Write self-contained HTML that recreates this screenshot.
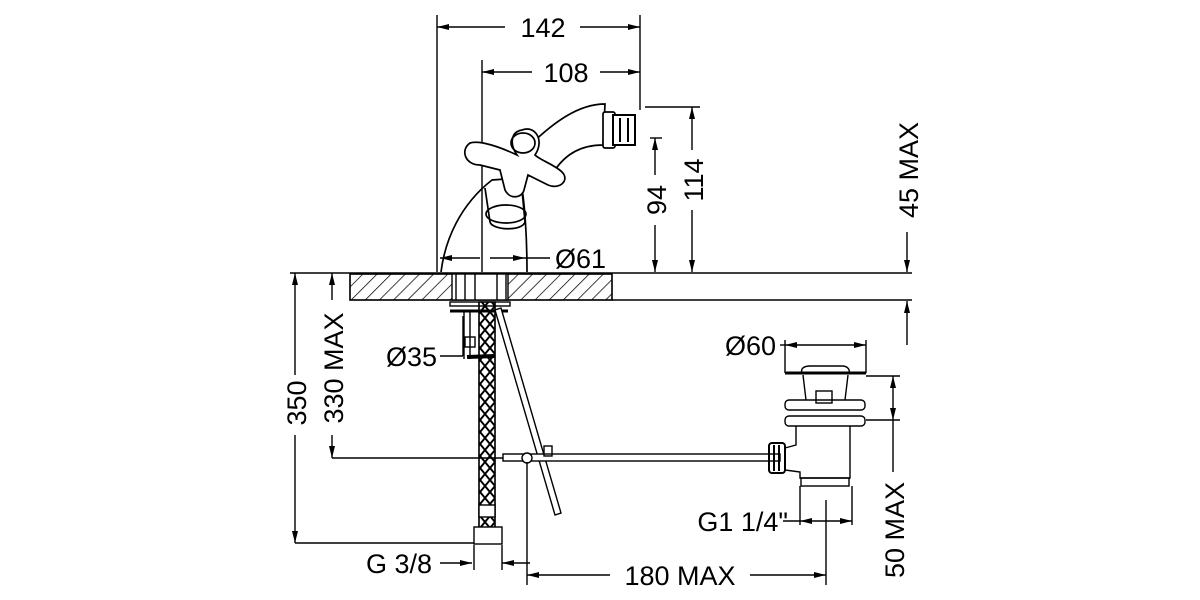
<!DOCTYPE html>
<html><head><meta charset="utf-8"><style>
html,body{margin:0;padding:0;background:#fff;width:1200px;height:600px;overflow:hidden}
svg{display:block}
text{font-family:"Liberation Sans",sans-serif;font-size:27px;fill:#000}
</style></head><body>
<svg width="1200" height="600" viewBox="0 0 1200 600" xmlns="http://www.w3.org/2000/svg">
<defs>
<marker id="a" viewBox="0 0 12 6" refX="12" refY="3" markerWidth="13" markerHeight="6" orient="auto-start-reverse" markerUnits="userSpaceOnUse"><path d="M0,0 L12,3 L0,6 z" fill="#000"/></marker>
<pattern id="h" width="10" height="10" patternUnits="userSpaceOnUse" patternTransform="rotate(45)"><line x1="0" y1="0" x2="0" y2="10" stroke="#000" stroke-width="1.5"/></pattern>
<pattern id="x" width="10" height="12" patternUnits="userSpaceOnUse"><path d="M0,0 L10,12 M10,0 L0,12" stroke="#000" stroke-width="2"/></pattern>
</defs>
<g stroke="#000" stroke-width="1.4" fill="none">
<line x1="437" y1="15" x2="437" y2="272"/>
<line x1="640" y1="15" x2="640" y2="110"/>
<line x1="437" y1="27" x2="505" y2="27" marker-start="url(#a)"/>
<line x1="580" y1="27" x2="640" y2="27" marker-end="url(#a)"/>
<line x1="482" y1="60" x2="482" y2="272"/>
<line x1="482" y1="72" x2="532" y2="72" marker-start="url(#a)"/>
<line x1="600" y1="72" x2="640" y2="72" marker-end="url(#a)"/>
<line x1="645" y1="107" x2="700" y2="107"/>
<line x1="692" y1="107" x2="692" y2="150" marker-start="url(#a)"/>
<line x1="692" y1="210" x2="692" y2="272" marker-end="url(#a)"/>
<line x1="650" y1="138" x2="662" y2="138"/>
<line x1="655" y1="138" x2="655" y2="175" marker-start="url(#a)"/>
<line x1="655" y1="225" x2="655" y2="272" marker-end="url(#a)"/>
<line x1="907" y1="232" x2="907" y2="272" marker-end="url(#a)"/>
<line x1="907" y1="345" x2="907" y2="301" marker-end="url(#a)"/>
<line x1="612" y1="300" x2="912" y2="300"/>
<line x1="290" y1="273" x2="912" y2="273"/>
<rect x="350" y="274" width="262" height="26" fill="url(#h)"/>
<rect x="350" y="274" width="262" height="26"/>
<rect x="452" y="274" width="56" height="26" fill="#fff"/>
<path d="M456,274v26M465,274v26M475,274v26M497,274v26M506,274v26"/>
<line x1="440" y1="258" x2="480" y2="258" marker-start="url(#a)"/>
<line x1="490" y1="258" x2="525" y2="258" marker-end="url(#a)"/>
<line x1="525" y1="258" x2="550" y2="258"/>
<!-- faucet body -->
<path d="M441,272 C445,240 460,205 492,180 L520,178 C525,200 527,240 527,272" stroke-width="1.7"/>
<path d="M525,150 C555,120 580,104 605,104 L603,145 C580,145 565,155 555,170 C545,180 530,178 520,172" stroke-width="1.7" fill="#fff"/>
<rect x="603" y="112" width="12" height="36" rx="2" stroke-width="1.7" fill="#fff"/>
<rect x="613" y="115" width="22" height="30" stroke-width="2" fill="#fff"/>
<path d="M620,118v24M628,118v24" stroke-width="2"/>
<path d="M485,188 L490,222 C492,230 522,232 525,222 L522,190" stroke-width="1.7" fill="#fff"/>
<ellipse cx="506" cy="214" rx="20" ry="9" stroke-width="1.7"/>
<path d="M517,155 C500,147 480,140 470,143 C460,150 465,165 480,165 L500,170 L505,190 C510,200 522,198 524,190 L528,175 L548,185 C560,190 570,180 562,172 C555,165 540,160 535,155 C545,140 535,125 522,130 C510,132 510,145 517,155 z" stroke-width="1.7" fill="#fff"/>
<ellipse cx="523" cy="143" rx="12" ry="10" stroke-width="1.7"/>
<!-- under-counter -->
<rect x="450" y="302" width="60" height="4"/>
<line x1="450" y1="311" x2="508" y2="311" stroke-width="3"/>
<path d="M464,311v48M470,311v48"/>
<rect x="465" y="337" width="10" height="10"/>
<line x1="467" y1="357" x2="495" y2="356" stroke-width="4"/>
<rect x="479" y="302" width="16" height="233" fill="url(#x)"/>
<path d="M479,302v233M495,302v233"/>
<rect x="479" y="505" width="16" height="12" fill="#fff"/>
<rect x="474" y="527" width="28" height="17" fill="#fff"/>
<path d="M495,310 L555,515 L561,513 L501,308 z" fill="#fff"/>
<line x1="440" y1="356" x2="463" y2="356"/>
<line x1="463" y1="316" x2="463" y2="356"/>
<rect x="503" y="454" width="277" height="7" fill="#fff"/>
<circle cx="527" cy="458" r="5" fill="#fff"/>
<rect x="544" y="446" width="8" height="10"/>
<line x1="295" y1="273" x2="295" y2="375" marker-start="url(#a)"/>
<line x1="295" y1="435" x2="295" y2="543" marker-end="url(#a)"/>
<line x1="295" y1="543" x2="474" y2="543"/>
<line x1="332" y1="273" x2="332" y2="300" marker-start="url(#a)"/>
<line x1="332" y1="435" x2="332" y2="458" marker-end="url(#a)"/>
<line x1="332" y1="458" x2="503" y2="458"/>
<line x1="440" y1="563" x2="472" y2="563" marker-end="url(#a)"/>
<line x1="474" y1="545" x2="474" y2="570"/>
<line x1="502" y1="545" x2="502" y2="570"/>
<line x1="502" y1="563" x2="530" y2="563" marker-start="url(#a)"/>
<line x1="527" y1="462" x2="527" y2="585"/>
<line x1="527" y1="575" x2="610" y2="575" marker-start="url(#a)"/>
<line x1="750" y1="575" x2="826" y2="575" marker-end="url(#a)"/>
<line x1="826" y1="500" x2="826" y2="585"/>
<!-- drain -->
<line x1="780" y1="345" x2="785" y2="345"/>
<line x1="785" y1="345" x2="866" y2="345" marker-start="url(#a)" marker-end="url(#a)"/>
<line x1="785" y1="340" x2="785" y2="373"/>
<line x1="866" y1="340" x2="866" y2="373"/>
<line x1="785" y1="373" x2="866" y2="373" stroke-width="3"/>
<path d="M802,373 C800,368 805,366 810,366 L842,366 C848,366 850,370 849,373"/>
<path d="M803,375 L806,400 M848,375 L845,400"/>
<rect x="816" y="391" width="16" height="12"/>
<rect x="785" y="400" width="80" height="10" rx="4"/>
<rect x="785" y="416" width="80" height="10" rx="4"/>
<path d="M796,426 L796,445 L785,448 L785,470 L800,472 L800,478 L850,478 L850,426"/>
<rect x="769" y="443" width="16" height="30" rx="3" stroke-width="2"/>
<path d="M774,445v26M779,445v26" stroke-width="2"/>
<rect x="801" y="478" width="48" height="8"/>
<line x1="800" y1="486" x2="800" y2="525"/>
<line x1="852" y1="486" x2="852" y2="525"/>
<line x1="783" y1="521" x2="800" y2="521"/>
<line x1="800" y1="521" x2="852" y2="521" marker-start="url(#a)" marker-end="url(#a)"/>
<line x1="866" y1="376" x2="900" y2="376"/>
<line x1="866" y1="420" x2="900" y2="420"/>
<line x1="893" y1="376" x2="893" y2="420" marker-start="url(#a)" marker-end="url(#a)"/>
<line x1="893" y1="420" x2="893" y2="472"/>
</g>
<g>
<text x="543" y="37" text-anchor="middle">142</text>
<text x="566" y="82" text-anchor="middle">108</text>
<text x="555" y="268">Ø61</text>
<text x="437" y="366" text-anchor="end">Ø35</text>
<text x="776" y="355" text-anchor="end">Ø60</text>
<text x="432" y="573" text-anchor="end">G 3/8</text>
<text x="680" y="585" text-anchor="middle">180 MAX</text>
<text x="788" y="531" text-anchor="end">G1 1/4"</text>
<text transform="translate(666,200) rotate(-90)" text-anchor="middle">94</text>
<text transform="translate(703,180) rotate(-90)" text-anchor="middle">114</text>
<text transform="translate(918,170) rotate(-90)" text-anchor="middle">45 MAX</text>
<text transform="translate(306,403) rotate(-90)" text-anchor="middle">350</text>
<text transform="translate(343,368) rotate(-90)" text-anchor="middle">330 MAX</text>
<text transform="translate(904,530) rotate(-90)" text-anchor="middle">50 MAX</text>
</g>
</svg>
</body></html>
